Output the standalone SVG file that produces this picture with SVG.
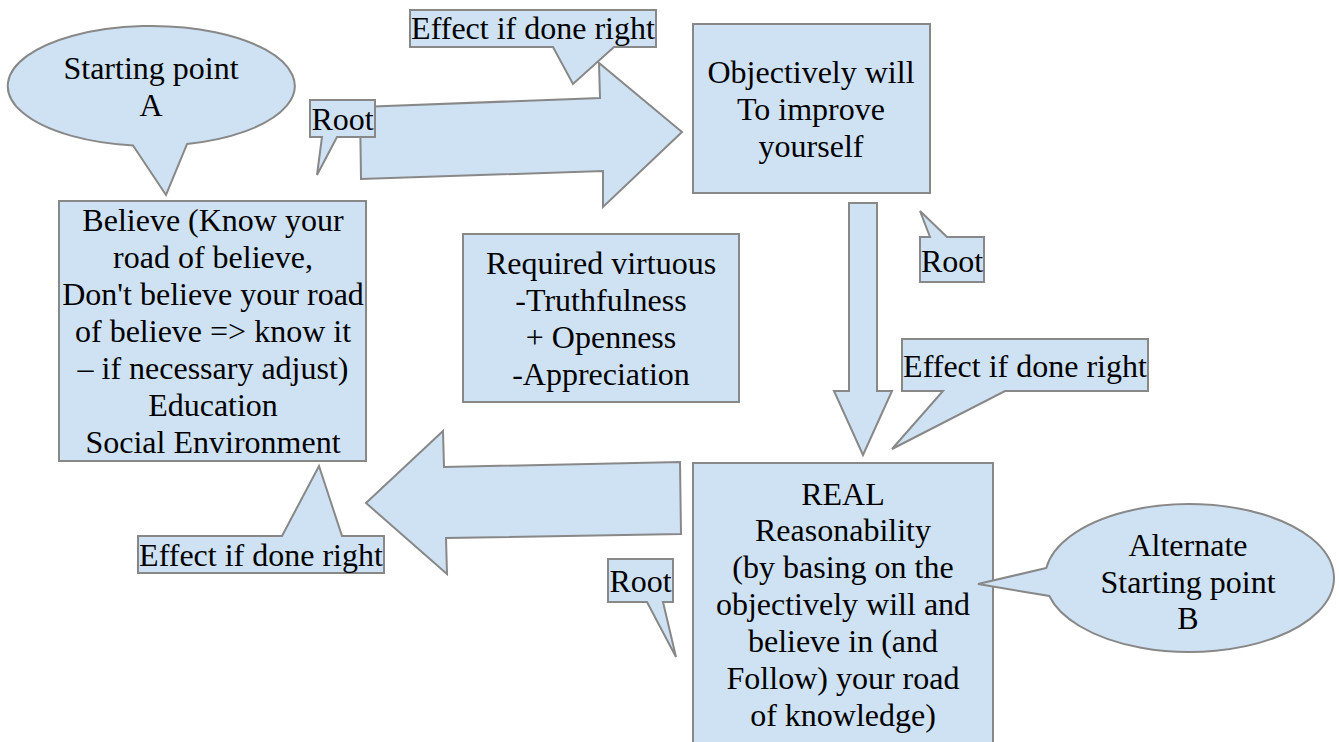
<svg xmlns="http://www.w3.org/2000/svg" width="1339" height="742" viewBox="0 0 1339 742">
  <style>
    .shape { fill: #cfe2f3; stroke: #888888; stroke-width: 2; stroke-linejoin: miter; }
    text { font-size: 32px; fill: #000000; text-anchor: middle; }
  </style>
  <rect width="1339" height="742" fill="#ffffff"/>

  <!-- Block arrows between the stages -->
  <g id="connectors">
    <polygon id="arrow-believe-to-will" class="shape" points="360,107 600,98 599,63 682,132 603,207 603,171 361,179"/>
    <path id="arrow-will-to-real" class="shape" d="M849,203 H877 V391 H892 L863,455 L834,391 H849 Z"/>
    <polygon id="arrow-real-to-believe" class="shape" points="366,503 443,431 444,467 680,462 681,534 446,538 447,574"/>
  </g>

  <g font-family="Times New Roman, Liberation Serif, serif">
  <!-- Starting point A (oval callout) -->
  <g id="start-a">
    <path class="shape" d="M133,145.5 L166,195 L187,144.1 A143.5,60 0 1 0 133,145.5 Z"/>
    <text x="151" y="79">Starting point</text>
    <text x="151" y="116">A</text>
  </g>

  <!-- Believe -->
  <g id="believe">
    <rect class="shape" x="59" y="201" width="307" height="260"/>
    <text x="213" y="231">Believe (Know your</text>
    <text x="213" y="268">road of believe,</text>
    <text x="213" y="305">Don't believe your road</text>
    <text x="213" y="342">of believe =&gt; know it</text>
    <text x="213" y="379">– if necessary adjust)</text>
    <text x="213" y="416">Education</text>
    <text x="213" y="453">Social Environment</text>
  </g>

  <!-- Objectively will -->
  <g id="objective-will">
    <rect class="shape" x="693" y="24" width="237" height="169"/>
    <text x="811" y="83">Objectively will</text>
    <text x="811" y="120">To improve</text>
    <text x="811" y="157">yourself</text>
  </g>

  <!-- Required virtues -->
  <g id="virtues">
    <rect class="shape" x="463" y="234" width="276" height="168"/>
    <text x="601" y="274">Required virtuous</text>
    <text x="601" y="311">-Truthfulness</text>
    <text x="601" y="348">+ Openness</text>
    <text x="601" y="385">-Appreciation</text>
  </g>

  <!-- Real reasonability -->
  <g id="real">
    <rect class="shape" x="693" y="463" width="300" height="290"/>
    <text x="843" y="505">REAL</text>
    <text x="843" y="541">Reasonability</text>
    <text x="843" y="578">(by basing on the</text>
    <text x="843" y="615">objectively will and</text>
    <text x="843" y="652">believe in (and</text>
    <text x="843" y="689">Follow) your road</text>
    <text x="843" y="726">of knowledge)</text>
  </g>

  <!-- Alternate starting point B (oval callout) -->
  <g id="start-b">
    <path class="shape" d="M1046.3,568 L978,584 L1049.3,596 A144.5,74 0 1 0 1046.3,568 Z"/>
    <text x="1188" y="556">Alternate</text>
    <text x="1188" y="593">Starting point</text>
    <text x="1188" y="629">B</text>
  </g>

  <!-- Small callouts -->
  <g id="root-1">
    <path class="shape" d="M310,100 H375 V137 H337 L317,175 L322,137 H310 Z"/>
    <text x="342.5" y="130">Root</text>
  </g>
  <g id="effect-1">
    <path class="shape" d="M410,10 H656 V47 H614 L573,84 L553,47 H410 Z"/>
    <text x="533" y="39">Effect if done right</text>
  </g>
  <g id="root-2">
    <path class="shape" d="M920,237 H930 L920,211 L947,237 H984 V282 H920 Z"/>
    <text x="952" y="272">Root</text>
  </g>
  <g id="effect-2">
    <path class="shape" d="M902,339 H1148 V391 H1005 L892,449 L943,391 H902 Z"/>
    <text x="1025" y="377">Effect if done right</text>
  </g>
  <g id="effect-3">
    <path class="shape" d="M138,536 H282 L319,466 L342,536 H384 V573 H138 Z"/>
    <text x="261" y="566">Effect if done right</text>
  </g>
  <g id="root-3">
    <path class="shape" d="M608,559 H673 V602 H663 L676,657 L647,602 H608 Z"/>
    <text x="640.5" y="592">Root</text>
  </g>
  </g>
</svg>
